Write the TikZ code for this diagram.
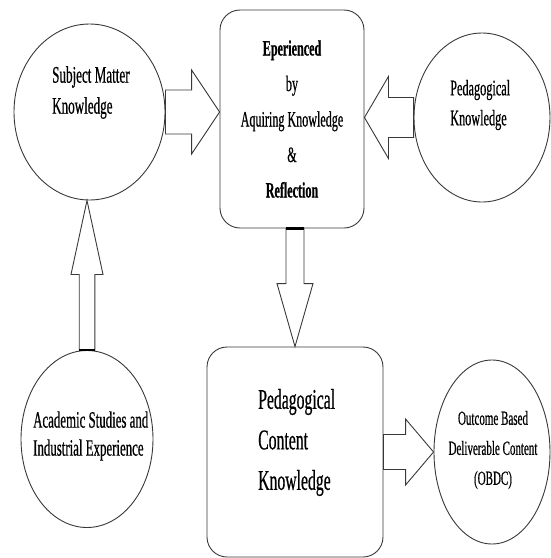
\documentclass[tikz,border=0pt]{standalone}
\usepackage{fontspec}
\setmainfont[FakeStretch=0.55,FakeBold=0.5]{Liberation Serif}
\usetikzlibrary{shapes.geometric,calc}
\tikzset{
  outline/.style={draw=black!78, line width=0.9pt},
  bubble/.style={outline, ellipse, inner sep=0pt},
  card/.style={outline, rectangle, rounded corners=20pt, inner sep=0pt},
  txt/.style={inner sep=0pt, text=black},
  blockarrow/.style n args={3}{outline, line join=miter, to path={
    let \p1=(\tikztostart), \p2=(\tikztotarget),
        \n1={veclen(\x2-\x1,\y2-\y1)},
        \n2={(\x2-\x1)/\n1}, \n3={(\y2-\y1)/\n1}
    in ({\x1-(\n3)*#1},{\y1+(\n2)*#1})
    -- ({\x2-(\n2)*#3-(\n3)*#1},{\y2-(\n3)*#3+(\n2)*#1})
    -- ({\x2-(\n2)*#3-(\n3)*#2},{\y2-(\n3)*#3+(\n2)*#2})
    -- (\p2)
    -- ({\x2-(\n2)*#3+(\n3)*#2},{\y2-(\n3)*#3-(\n2)*#2})
    -- ({\x2-(\n2)*#3+(\n3)*#1},{\y2-(\n3)*#3-(\n2)*#1})
    -- ({\x1+(\n3)*#1},{\y1-(\n2)*#1})
    -- cycle}},
  joint/.style={draw=black, line width=2.2pt}
}
\begin{document}
\begin{tikzpicture}[x=1pt,y=-1pt]
\useasboundingbox (0,0) rectangle (551,558);
% shapes
\node[bubble, minimum width=151pt, minimum height=176pt] (smk) at (89.5,112) {};
\node[card, minimum width=144pt, minimum height=218pt] (top) at (292,119) {};
\node[bubble, minimum width=136pt, minimum height=169pt] (pk) at (482,117.5) {};
\node[bubble, minimum width=132pt, minimum height=177pt] (asie) at (87,439) {};
\node[card, minimum width=176pt, minimum height=210pt] (pck) at (295,452) {};
\node[bubble, minimum width=116pt, minimum height=184pt] (obdc) at (492,452) {};
% texts
\node[txt, align=center, font=\fontsize{22}{35.5}\selectfont] (topt) at (292,119) {\textbf{Eperienced}\\by\\Aquiring Knowledge\\\&\\\textbf{Reflection}};
\node[txt, anchor=west, align=left, font=\fontsize{23.8}{31}\selectfont] (smkt) at (52,92.5) {Subject Matter\\Knowledge};
\node[txt, anchor=west, align=left, font=\fontsize{22.3}{30}\selectfont] (pkt) at (450,105) {Pedagogical\\Knowledge};
\node[txt, anchor=west, align=left, font=\fontsize{23.4}{28}\selectfont] (asiet) at (33,436) {Academic Studies and\\Industrial Experience};
\node[txt, align=center, font=\fontsize{20}{30}\selectfont] (obdct) at (493,450) {Outcome Based\\Deliverable Content\\(OBDC)};
\node[txt, anchor=west, align=left, font=\fontsize{28.6}{40.5}\selectfont] (pckt) at (258,442.5) {Pedagogical\\Content\\Knowledge};
% block arrows
\draw[blockarrow={22pt}{42pt}{28pt}] (smk.east) to (smk.east -| top.west);
\draw[blockarrow={20pt}{41pt}{24pt}] (pk.west) to (pk.west -| top.east);
\draw[blockarrow={9pt}{18pt}{63pt}] (pck.north |- top.south) to (pck.north);
\draw[blockarrow={7.8pt}{16pt}{74pt}] (asie.north) to (asie.north |- smk.south);
\draw[blockarrow={17.5pt}{33pt}{28pt}] (pck.east) to (pck.east -| obdc.west);
% dark joints
\draw[joint] ($(pck.north |- top.south)+(-9,0)$) -- ($(pck.north |- top.south)+(9,0)$);
\draw[joint] ($(asie.north)+(-7.8,0)$) -- ($(asie.north)+(7.8,0)$);
\end{tikzpicture}
\end{document}
